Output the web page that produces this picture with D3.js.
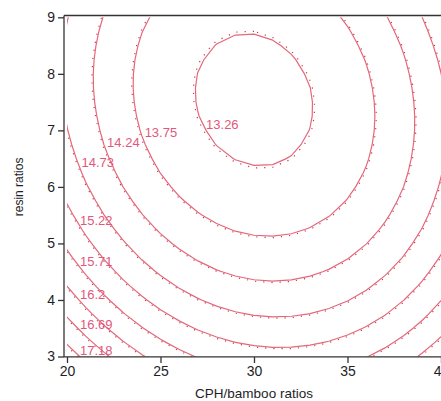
<!DOCTYPE html>
<html>
<head>
<meta charset="utf-8">
<script src="https://cdn.jsdelivr.net/npm/d3@7"></script>
<style>
  body { margin: 0; background: #fff; }
  text { font-family: "Liberation Sans", Arial, sans-serif; }
</style>
</head>
<body>
<svg id="chart"></svg>
<script>
// contour levels as printed on the plot
const levels = [13.26, 13.75, 14.24, 14.73, 15.22, 15.71, 16.2, 16.69, 17.18];
// data-y where each level's label sits (left side of each curve)
const labelY = [7.11, 6.96, 6.79, 6.43, 5.41, 4.68, 4.10, 3.57, 3.11];

const xTicks = [20, 25, 30, 35, 40];
const yTicks = [3, 4, 5, 6, 7, 8, 9];

// fitted second-order response surface
// z = zMin + a*(x-x0)^2 + c*(y-y0)^2 + b*(x-x0)*(y-y0)
const surfCenter = [30.0, 7.54];
const surfMin = 13.108;
const surfCoef = [0.01549, 0.1116, 0.01]; // a, c, b

const width = 441, height = 401;
const svg = d3.select('#chart').attr('width', width).attr('height', height);

const x = d3.scaleLinear().domain([20, 40]).range([67, 441]);
const y = d3.scaleLinear().domain([3, 9]).range([356.5, 17.3]);

function surf(px, py) {
    const dx = px - surfCenter[0], dy = py - surfCenter[1];
    return surfMin + surfCoef[0] * dx * dx + surfCoef[1] * dy * dy + surfCoef[2] * dx * dy;
}

// grid a bit larger than the plot so the ring borders fall outside the clip
const gx0 = 18, gy0 = 2.5, stepX = 1, stepY = 0.25;
const nx = 25, ny = 29;
const values = new Array(nx * ny);
for (let j = 0; j < ny; j++) {
    for (let i = 0; i < nx; i++) {
        values[i + j * nx] = surf(gx0 + i * stepX, gy0 + j * stepY);
    }
}

const proj = d3.geoTransform({
    point: function (cx, cy) {
        this.stream.point(x(gx0 + (cx - 0.5) * stepX), y(gy0 + (cy - 0.5) * stepY));
    }
});
const path = d3.geoPath(proj);

svg.append('clipPath').attr('id', 'plotClip')
    .append('rect')
    .attr('x', x(20)).attr('y', y(9))
    .attr('width', x(40) - x(20)).attr('height', y(3) - y(9));

const contours = d3.contours().size([nx, ny]).thresholds(levels)(values);
// slightly outer copy, drawn as dots
const dotted = d3.contours().size([nx, ny])
    .thresholds(levels.map((l, i) => l + 0.012 + 0.003 * i))(values);

const plot = svg.append('g').attr('clip-path', 'url(#plotClip)');

plot.selectAll('path.dots')
    .data(dotted)
    .join('path')
    .attr('class', 'dots')
    .attr('d', path)
    .attr('fill', 'none')
    .attr('stroke', '#d83050')
    .attr('stroke-width', 1.2)
    .attr('stroke-dasharray', '1.2 7');

plot.selectAll('path.line')
    .data(contours)
    .join('path')
    .attr('class', 'line')
    .attr('d', path)
    .attr('fill', 'none')
    .attr('stroke', '#e2687a')
    .attr('stroke-width', 1.2);

// labels: placed just right of where the curve crosses labelY on its left side
function leftCrossing(level, py) {
    const [a, c, b] = surfCoef;
    const dy = py - surfCenter[1];
    const B = b * dy, C = c * dy * dy + surfMin - level;
    return surfCenter[0] + (-B - Math.sqrt(B * B - 4 * a * C)) / (2 * a);
}

svg.append('g').selectAll('text')
    .data(levels)
    .join('text')
    .attr('x', (d, i) => Math.max(x(leftCrossing(d, labelY[i])) + 4, 80))
    .attr('y', (d, i) => y(labelY[i]))
    .attr('dy', '0.36em')
    .attr('font-size', '13px')
    .attr('fill', '#e2587a')
    .text(d => d);

// frame
const frame = svg.append('g').attr('stroke', '#333').attr('stroke-width', 1.3);
frame.append('line').attr('x1', 64).attr('x2', 64).attr('y1', 15.5).attr('y2', 357);
frame.append('line').attr('x1', 64).attr('x2', 441).attr('y1', 356.8).attr('y2', 356.8);
frame.append('line').attr('x1', 64).attr('x2', 441).attr('y1', 15.5).attr('y2', 15.5);

const xAxis = svg.append('g')
    .attr('transform', 'translate(0,357)')
    .call(d3.axisBottom(x).tickValues(xTicks).tickFormat(d3.format('d')).tickSize(6).tickPadding(3));
const yAxis = svg.append('g')
    .attr('transform', 'translate(64,0)')
    .call(d3.axisLeft(y).tickValues(yTicks).tickFormat(d3.format('d')).tickSize(6).tickPadding(3));

[xAxis, yAxis].forEach(ax => {
    ax.select('.domain').remove();
    ax.selectAll('line').attr('stroke', '#333').attr('stroke-width', 1.3);
    ax.selectAll('text')
        .attr('font-size', '14px')
        .attr('fill', '#1e1e28')
        .style('font-family', '"Liberation Sans", Arial, sans-serif');
});

svg.append('text')
    .attr('x', x(30))
    .attr('y', 398)
    .attr('text-anchor', 'middle')
    .attr('font-size', '13.5px')
    .attr('fill', '#1e1e28')
    .text('CPH/bamboo ratios');

svg.append('text')
    .attr('transform', `translate(23,${(y(3) + y(9)) / 2}) rotate(-90)`)
    .attr('text-anchor', 'middle')
    .attr('font-size', '12px')
    .attr('fill', '#1e1e28')
    .text('resin ratios');
</script>
</body>
</html>
